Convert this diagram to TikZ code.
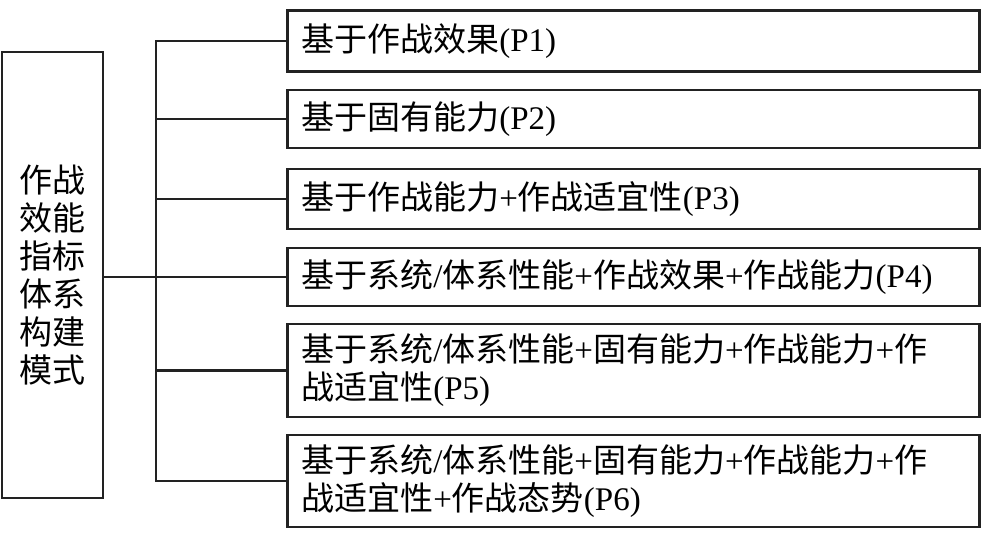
\documentclass[tikz,border=0pt]{standalone}
\usepackage{fontspec}
\setmainfont{Liberation Serif}
\newfontfamily\cjk{Noto Sans CJK SC}
\definecolor{ink}{HTML}{222222}
\begin{document}
\begin{tikzpicture}[x=1bp,y=-1bp,
  line width=2.6bp,
  rbox/.style={draw=ink, font=\fontsize{33bp}{38bp}\selectfont, text=black, anchor=west,
    minimum width=692bp, text width=664bp, inner xsep=14bp, inner ysep=0pt, align=left},
  lbox/.style={draw=ink, font=\fontsize{33bp}{38bp}\selectfont\cjk, text=black,
    minimum width=101bp, minimum height=446bp, align=center},
  wire/.style={draw=ink, line width=2.6bp, line cap=rect}
]
\useasboundingbox (0,0) rectangle (984,535);

\node[lbox] (L) at (52.5,275) {作战\\效能\\指标\\体系\\构建\\模式};

\node[rbox, minimum height=61bp] (p1) at (286,41) {{\cjk 基于作战效果}(P1)};
\node[rbox, minimum height=58bp] (p2) at (286,119) {{\cjk 基于固有能力}(P2)};
\node[rbox, minimum height=60bp] (p3) at (286,199) {{\cjk 基于作战能力}+{\cjk 作战适宜性}(P3)};
\node[rbox, minimum height=58bp] (p4) at (286,277) {{\cjk 基于系统}/{\cjk 体系性能}+{\cjk 作战效果}+{\cjk 作战能力}(P4)};
\node[rbox, minimum height=93bp] (p5) at (286,370.5) {{\cjk 基于系统}/{\cjk 体系性能}+{\cjk 固有能力}+{\cjk 作战能力}+{\cjk 作}\\{\cjk 战适宜性}(P5)};
\node[rbox, minimum height=92bp] (p6) at (286,481) {{\cjk 基于系统}/{\cjk 体系性能}+{\cjk 固有能力}+{\cjk 作战能力}+{\cjk 作}\\{\cjk 战适宜性}+{\cjk 作战态势}(P6)};

\coordinate (b1) at (156,41);
\coordinate (b2) at (156,119);
\coordinate (b3) at (156,199);
\coordinate (b4) at (156,277);
\coordinate (b5) at (156,370.5);
\coordinate (b6) at (156,481);

\draw[wire] (b1) -- (b6);
\draw[wire] (L.east |- b4) -- (b4);
\draw[wire] (b1) -- (b1 -| p1.west);
\draw[wire] (b2) -- (b2 -| p2.west);
\draw[wire] (b3) -- (b3 -| p3.west);
\draw[wire] (b4) -- (b4 -| p4.west);
\draw[wire] (b5) -- (b5 -| p5.west);
\draw[wire] (b6) -- (b6 -| p6.west);
\end{tikzpicture}
\end{document}
